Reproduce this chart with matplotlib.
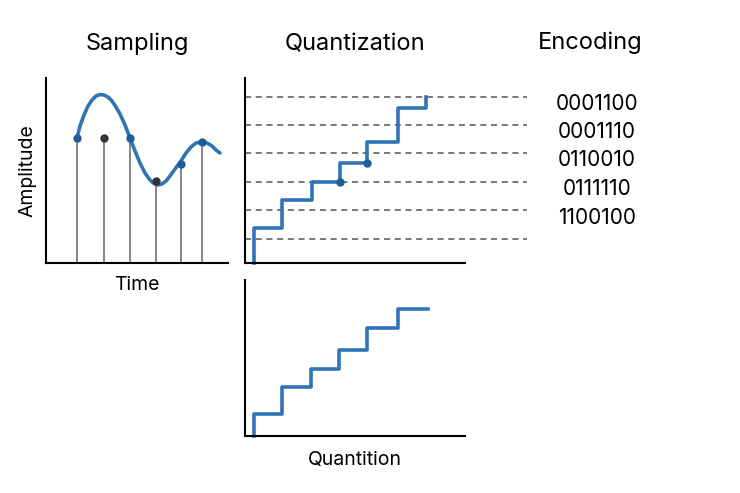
import numpy as np
import matplotlib.pyplot as plt

plt.rcParams['font.family'] = ['Inter', 'DejaVu Sans']

W, H = 740, 493
blue = '#2f75b5'
dark = '#333333'

# --- Data (in pixel-like units; y grows downward) ---
curve_x = [77, 80, 84, 88, 92, 96, 100, 104, 108, 112, 116, 120, 125, 130, 135, 140,
           145, 150, 154, 158, 162, 166, 170, 175, 181, 186, 191, 196, 202, 207, 212, 216, 220]
curve_y = [138, 126, 115, 106, 100, 96, 94.5, 95, 97, 101, 107, 114, 125, 138, 151, 163,
           173, 180, 183.5, 185, 184, 181, 176, 169, 161, 153, 147, 143, 142, 143, 146, 150, 153]
sample_x = [77, 104, 130, 156, 181, 202]
sample_y = [138, 138, 138, 181, 164, 142]
sample_on_curve = [True, False, True, False, True, True]

levels_y = [97, 125, 153, 182, 210, 239]
quant_x = [254, 254, 282, 282, 312, 312, 340, 340, 367, 367, 398, 398, 426, 426]
quant_y = [263, 228, 228, 200, 200, 182, 182, 163, 163, 142, 142, 108, 108, 97]
quant_dots_x = [340, 367]
quant_dots_y = [182, 163]

bot_x = [254, 254, 282, 282, 311, 311, 339, 339, 367, 367, 398, 398, 428]
bot_y = [436, 414, 414, 387, 387, 369, 369, 350, 350, 328, 328, 309, 309]

codes = ['0001100', '0001110', '0110010', '0111110', '1100100']
codes_y = [104, 132, 160, 189, 218]

fig = plt.figure(figsize=(W / 100, H / 100), dpi=100)


def make_ax(x0, x1, y0, y1):
    ax = fig.add_axes([x0 / W, 1 - y1 / H, (x1 - x0) / W, (y1 - y0) / H])
    ax.set_xlim(x0, x1)
    ax.set_ylim(y1, y0)
    for s in ['top', 'right']:
        ax.spines[s].set_visible(False)
    for s in ['left', 'bottom']:
        ax.spines[s].set_linewidth(1.5)
        ax.spines[s].set_color('black')
    ax.set_xticks([])
    ax.set_yticks([])
    ax.patch.set_alpha(0)
    return ax


# Sampling
ax1 = make_ax(46, 228, 78, 263)
for x, y in zip(sample_x, sample_y):
    ax1.plot([x, x], [263, y], color='#666666', lw=1.1, zorder=1)
ax1.plot(curve_x, curve_y, color=blue, lw=2.6, solid_capstyle='round',
         solid_joinstyle='round', zorder=2)
for x, y, on in zip(sample_x, sample_y, sample_on_curve):
    ax1.plot(x, y, 'o', color='#1f5c99' if on else dark, ms=5, zorder=3)
ax1.set_xlabel('Time', fontsize=14)
ax1.set_ylabel('Amplitude', fontsize=14)
ax1.xaxis.labelpad = 9
ax1.yaxis.labelpad = 7
ax1.set_title('Sampling', fontsize=17, pad=20)

# Quantization
ax2 = make_ax(245, 465, 78, 263)
for y in levels_y:
    ax2.plot([245, 527], [y, y], color='#555555', lw=1.1, ls=(0, (4, 3)), clip_on=False)
ax2.plot(quant_x, quant_y, color=blue, lw=2.6, clip_on=False)
ax2.plot(quant_dots_x, quant_dots_y, 'o', color='#1f5c99', ms=5)
ax2.set_title('Quantization', fontsize=17, pad=20)

# Bottom staircase
ax3 = make_ax(245, 465, 280, 436)
ax3.plot(bot_x, bot_y, color=blue, lw=2.6, clip_on=False)
ax3.set_xlabel('Quantition', fontsize=14, labelpad=11)

# Encoding
fig.text(590 / W, 1 - 43 / H, 'Encoding', fontsize=17, ha='center', va='center')
for c, y in zip(codes, codes_y):
    fig.text(597 / W, 1 - y / H, c, fontsize=15, ha='center', va='center')

fig.savefig('out.png', dpi=100)
